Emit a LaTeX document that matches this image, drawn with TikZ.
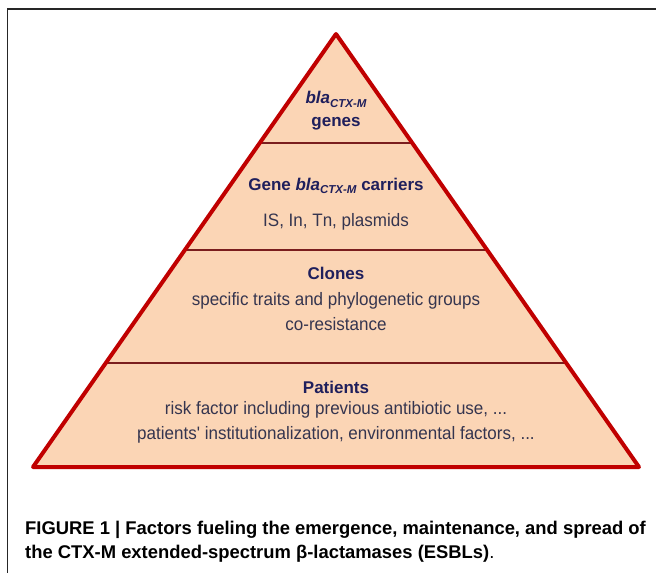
\documentclass[tikz,border=0pt]{standalone}
\usepackage{fontspec}
\setmainfont{Liberation Sans}
\newfontfamily\bodyfont[FakeStretch=0.945]{Liberation Sans}
\usetikzlibrary{calc,positioning}
\definecolor{peach}{HTML}{FBD5B5}
\definecolor{brickred}{HTML}{C00000}
\definecolor{darkbrown}{HTML}{7A1E1E}
\definecolor{navy}{HTML}{1F1F5C}
\definecolor{slate}{HTML}{35354F}
\tikzset{
  layer/.style = {text=navy, font=\fontsize{17}{23}\selectfont\bfseries, align=center, inner sep=0pt},
  detail/.style = {text=slate, font=\bodyfont\fontsize{18}{24.5}\selectfont, align=center, inner sep=0pt},
  caption/.style = {text=black, font=\fontsize{18.4}{24}\selectfont\bfseries, align=left, inner sep=0pt},
  divider/.style = {draw=darkbrown, line width=1.8pt},
  outline/.style = {draw=brickred, line width=4pt, line join=round},
  frame/.style = {draw=black!85, line width=1.2pt}
}
\newcommand{\blagene}{\textit{bla}\raisebox{-3.5pt}{\fontsize{11.5}{11.5}\selectfont\itshape CTX-M}}

\begin{document}
\begin{tikzpicture}[x=1pt,y=-1pt]
  \useasboundingbox (0,0) rectangle (656,573);
  % Frame
  \draw[frame] (656,9) -- (7.5,9) -- (7.5,573);
  % Pyramid
  \coordinate (apex) at (336,34);
  \coordinate (bl) at (33,467);
  \coordinate (br) at (639,467);
  \fill[peach] (apex) -- (bl) -- (br) -- cycle;
  \foreach \t in {0.2517,0.4988,0.7598}
    \draw[divider] ($(apex)!\t!(bl)$) -- ($(apex)!\t!(br)$);
  \draw[outline] (apex) -- (bl) -- (br) -- cycle;
  % Place texts
  \node[layer] (genes) at (336,111) {\blagene\\genes};
  \node[layer] (carriers) at (336,186) {Gene \blagene\ carriers};
  \node[detail, below of=carriers, node distance=36pt] (mobile) {IS, In, Tn, plasmids};
  \node[layer] (clones) at (336,273) {Clones};
  \node[detail, below of=clones, node distance=38.5pt] (traits)
  {specific traits and phylogenetic groups\\co-resistance};
  \node[layer] (patients) at (336,387) {Patients};
  \node[detail, below of=patients, node distance=35.5pt] (risks)
  {risk factor including previous antibiotic use, ...\\patients' institutionalization, environmental factors, ...};
  % Caption
  \node[caption, anchor=north west] (legend) at (25,521)
  {FIGURE 1 | Factors fueling the emergence, maintenance, and spread of\\the CTX-M extended-spectrum β-lactamases (ESBLs)\textmd{.}};
\end{tikzpicture}
\end{document}
